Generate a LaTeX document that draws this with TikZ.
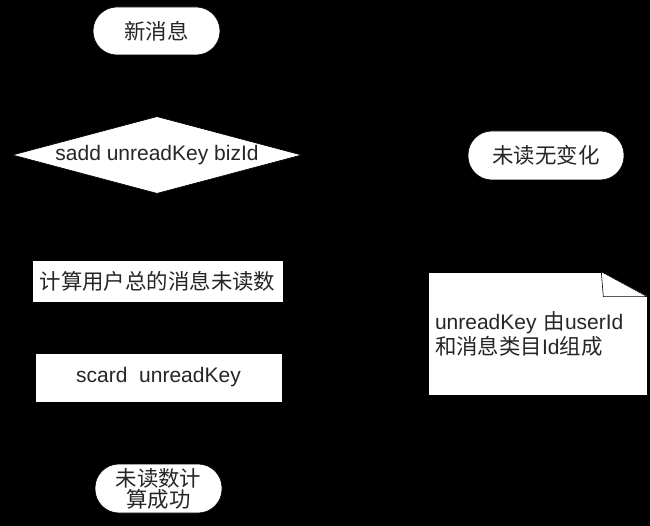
\documentclass[tikz,border=0pt]{standalone}
\usepackage{fontspec}
\setmainfont{Liberation Sans}
\newfontfamily\cjk[Scale=1.02]{Noto Sans CJK SC}
\usetikzlibrary{shapes.geometric,calc}
\tikzset{
  base/.style={fill=white, draw=black, line width=0.6pt, inner sep=0pt,
    font=\fontsize{21pt}{25pt}\selectfont, text=black!85},
  pill/.style={base, rectangle, rounded corners=24pt},
  procbox/.style={base, rectangle},
  decbox/.style={base, diamond, aspect=3.75, minimum width=289pt, minimum height=77pt},
  notebox/.style={base, rectangle, minimum width=219pt, minimum height=123pt,
    text width=205pt, align=left}
}
\begin{document}
\begin{tikzpicture}[x=1pt,y=-1pt]
\fill[black] (0,0) rectangle (650,526);
\useasboundingbox (0,0) rectangle (650,526);

\node[pill, minimum width=127pt, minimum height=48pt] (start) at (156.5,31) {\cjk 新消息};
\node[decbox] (dec) at (157,155) {sadd unreadKey bizId};
\node[pill, minimum width=156pt, minimum height=49pt] (nochg) at (546,155.5) {\cjk 未读无变化};
\node[procbox, minimum width=251pt, minimum height=42pt] (calc) at (157.5,281) {\cjk 计算用户总的消息未读数};
\node[procbox, minimum width=247pt, minimum height=49pt] (scard) at (158.5,377.5) {scard~\ unreadKey};
\node[pill, minimum width=127pt, minimum height=49pt, align=center,
      font=\fontsize{21pt}{21pt}\selectfont] (done) at (158.5,488.5) {\cjk 未读数计\\\cjk 算成功};

\node[notebox] (note) at (537.5,333.5) {unreadKey {\cjk 由}userId\\{\cjk 和消息类目}Id{\cjk 组成}};
\fill[black] ($(note.north east)+(-46,0)$) -- ($(note.north east)+(1,-1)$) -- ($(note.north east)+(1,25)$) -- cycle;
\draw[black, line width=0.6pt, fill=white] ($(note.north east)+(-46,0)$) -- ($(note.north east)+(0,25)$) -- ($(note.north east)+(-44,25)$) -- cycle;
\end{tikzpicture}
\end{document}
